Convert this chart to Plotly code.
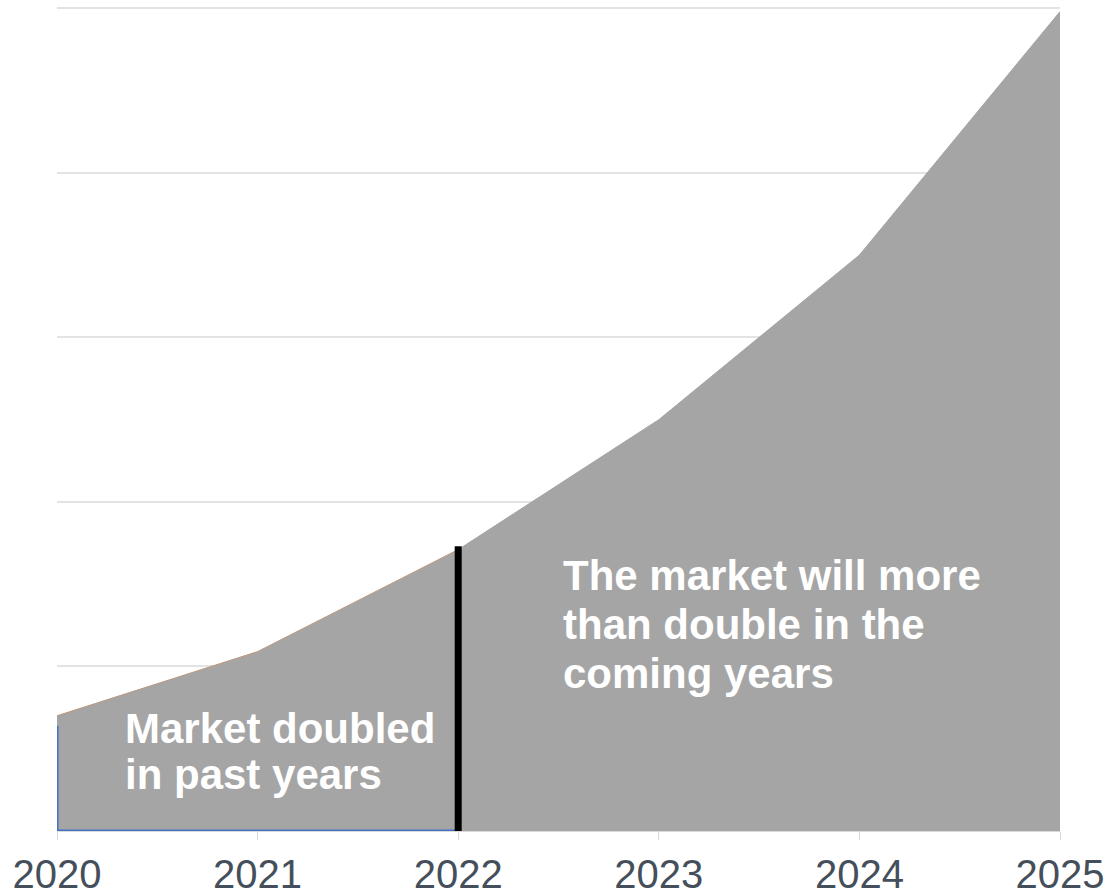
import plotly.graph_objects as go

years = [2020, 2021, 2022, 2023, 2024, 2025]
market = [0.70, 1.09, 1.71, 2.50, 3.50, 4.98]
past_years = [2020, 2021, 2022]
past_outline_x = [2020, 2020, 2022]
past_outline_y = [0.64, 0, 0]
split_year = 2022
tick_labels = ["2020", "2021", "2022", "2023", "2024", "2025"]
past_text = ["Market doubled", "in past years"]
future_text = ["The market will more", "than double in the", "coming years"]

gray = "#a5a5a5"

fig = go.Figure()
fig.add_trace(go.Scatter(
    x=years, y=market, mode="lines", fill="tozeroy",
    fillcolor=gray, line=dict(color=gray, width=1),
    hoverinfo="skip", showlegend=False))
fig.add_trace(go.Scatter(
    x=past_years, y=market[:3], mode="lines",
    line=dict(color="rgba(237,125,49,0.35)", width=1),
    hoverinfo="skip", showlegend=False))
fig.add_trace(go.Scatter(
    x=past_outline_x, y=past_outline_y, mode="lines",
    line=dict(color="#4472c4", width=3),
    hoverinfo="skip", showlegend=False))

split_val = market[years.index(split_year)]
fig.add_shape(type="line", x0=split_year, x1=split_year, y0=0, y1=split_val + 0.02,
              line=dict(color="black", width=7))

txt_font = dict(family="Liberation Sans, Arial", size=42, color="white")
for line, yv in zip(past_text, [0.626, 0.346]):
    fig.add_annotation(x=2020.33, y=yv, xanchor="left", yanchor="middle",
                       text=f"<b>{line}</b>", showarrow=False, font=txt_font)
for line, yv in zip(future_text, [1.555, 1.252, 0.960]):
    fig.add_annotation(x=2022.51, y=yv, xanchor="left", yanchor="middle",
                       text=f"<b>{line}</b>", showarrow=False, font=txt_font)

fig.update_layout(
    width=1112, height=895,
    margin=dict(l=57, r=52, t=5, b=64, autoexpand=False),
    plot_bgcolor="white", paper_bgcolor="white",
    xaxis=dict(range=[2020, 2025], tickvals=years, ticktext=tick_labels,
               automargin=False,
               showgrid=False, zeroline=False, showline=False,
               ticks="outside", ticklen=8, tickcolor="#d9d9d9", tickwidth=1,
               tickfont=dict(family="Liberation Sans, Arial",
                             size=40, color="#454f5b")),
    yaxis=dict(range=[0, 5.02], tickvals=[0, 1, 2, 3, 4, 5], showticklabels=False,
               automargin=False,
               showgrid=True, gridcolor="#e3e3e3", gridwidth=2,
               zeroline=True, zerolinecolor="#d9d9d9", zerolinewidth=2),
)

fig.write_html("out.html")
